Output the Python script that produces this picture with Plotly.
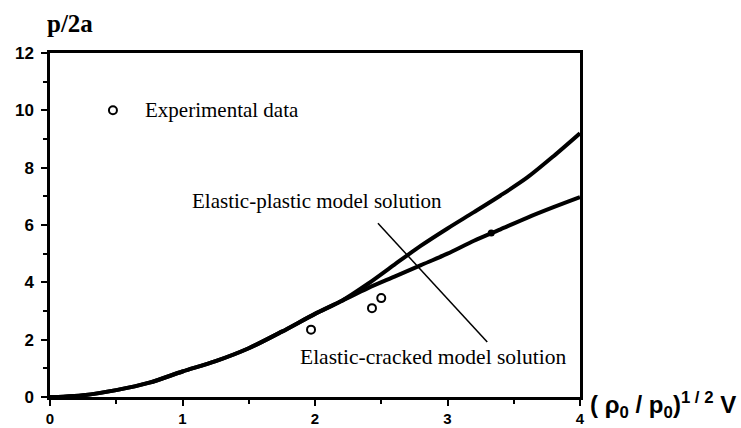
import plotly.graph_objects as go

# Shared lower part of both model curves
x_common = [0.0, 0.1, 0.25, 0.5, 0.75, 1.0, 1.25, 1.5, 1.75, 2.0, 2.2]
y_common = [0.0, 0.01, 0.06, 0.24, 0.5, 0.89, 1.25, 1.7, 2.28, 2.9, 3.35]

# Elastic-plastic model solution (upper branch)
x_plastic = [2.2, 2.4, 2.6, 2.8, 3.0, 3.2, 3.4, 3.6, 3.8, 4.0]
y_plastic = [3.35, 3.95, 4.62, 5.28, 5.88, 6.45, 7.03, 7.65, 8.4, 9.2]

# Elastic-cracked model solution (lower branch)
x_cracked = [2.2, 2.4, 2.6, 2.8, 3.0, 3.2, 3.4, 3.6, 3.8, 4.0]
y_cracked = [3.35, 3.8, 4.2, 4.6, 5.0, 5.45, 5.85, 6.25, 6.62, 6.97]

# Experimental data
x_exp = [1.97, 2.43, 2.5]
y_exp = [2.35, 3.1, 3.45]

x_ticks = [0, 1, 2, 3, 4]
y_ticks = [0, 2, 4, 6, 8, 10, 12]

fig = go.Figure()
line_style = dict(color="black", width=4, shape="spline", smoothing=0.8)
fig.add_trace(go.Scatter(x=x_common + x_plastic[1:], y=y_common + y_plastic[1:],
                         mode="lines", line=line_style, showlegend=False))
fig.add_trace(go.Scatter(x=x_common + x_cracked[1:], y=y_common + y_cracked[1:],
                         mode="lines", line=line_style, showlegend=False))
fig.add_trace(go.Scatter(x=[3.33], y=[5.72], mode="markers",
                         marker=dict(color="black", size=7), showlegend=False))
fig.add_trace(go.Scatter(x=x_exp, y=y_exp, mode="markers",
                         marker=dict(symbol="circle-open", color="black", size=8,
                                     line=dict(width=2)), showlegend=False))
# legend marker
fig.add_trace(go.Scatter(x=[0.475], y=[10.0], mode="markers",
                         marker=dict(symbol="circle-open", color="black", size=8,
                                     line=dict(width=2)), showlegend=False))

serif = "Liberation Serif"
sans = "Liberation Sans"

fig.add_annotation(x=0.7, y=10.0, text="Experimental data", showarrow=False,
                   xanchor="left", yanchor="middle",
                   font=dict(family=serif, size=21, color="black"))
fig.add_annotation(x=1.057, y=6.83, text="Elastic-plastic model solution", showarrow=False,
                   xanchor="left", yanchor="middle",
                   font=dict(family=serif, size=21, color="black"))
fig.add_annotation(x=1.87, y=1.39, text="Elastic-cracked model solution", showarrow=False,
                   xanchor="left", yanchor="middle",
                   font=dict(family=serif, size=21.5, color="black"))

fig.add_shape(type="line", x0=2.475, y0=6.06, x1=3.30, y1=1.92,
              line=dict(color="black", width=1.5))

fig.add_annotation(xref="paper", yref="paper", x=0.0, y=1.0, xshift=-5, yshift=30,
                   text="<b>p/2a</b>", showarrow=False, xanchor="left", yanchor="middle",
                   font=dict(family=serif, size=25, color="black"))
fig.add_annotation(xref="paper", yref="paper", x=1.0, y=0.0, xshift=8, yshift=-8,
                   text="<b>( ρ<sub>0</sub> / p<sub>0</sub>)<sup>1 / 2</sup> V</b>",
                   showarrow=False, xanchor="left", yanchor="middle",
                   font=dict(family=sans, size=24, color="black"))

fig.update_xaxes(range=[0, 4], tickvals=x_ticks, ticktext=[str(v) for v in x_ticks],
                 showgrid=False, zeroline=False, showline=True, linecolor="black",
                 linewidth=2.5, mirror=True, ticks="outside", ticklen=6, tickwidth=2,
                 tickcolor="black", ticklabelstandoff=0, automargin=False,
                 minor=dict(dtick=0.5, ticks="outside", ticklen=4, tickwidth=2, tickcolor="black"),
                 tickfont=dict(family=sans, size=15, color="black", weight="bold"))
fig.update_yaxes(range=[0, 12], tickvals=y_ticks, ticktext=[str(v) for v in y_ticks],
                 showgrid=False, zeroline=False, showline=True, linecolor="black",
                 linewidth=2.5, mirror=True, ticks="outside", ticklen=6, tickwidth=2,
                 tickcolor="black", ticklabelstandoff=4, automargin=False,
                 minor=dict(dtick=1, ticks="outside", ticklen=4, tickwidth=2, tickcolor="black"),
                 tickfont=dict(family=sans, size=17, color="black", weight="bold"))

fig.update_layout(width=741, height=428, margin=dict(l=50, r=161, t=53, b=31),
                  plot_bgcolor="white", paper_bgcolor="white", showlegend=False)

fig.write_html("out.html")
